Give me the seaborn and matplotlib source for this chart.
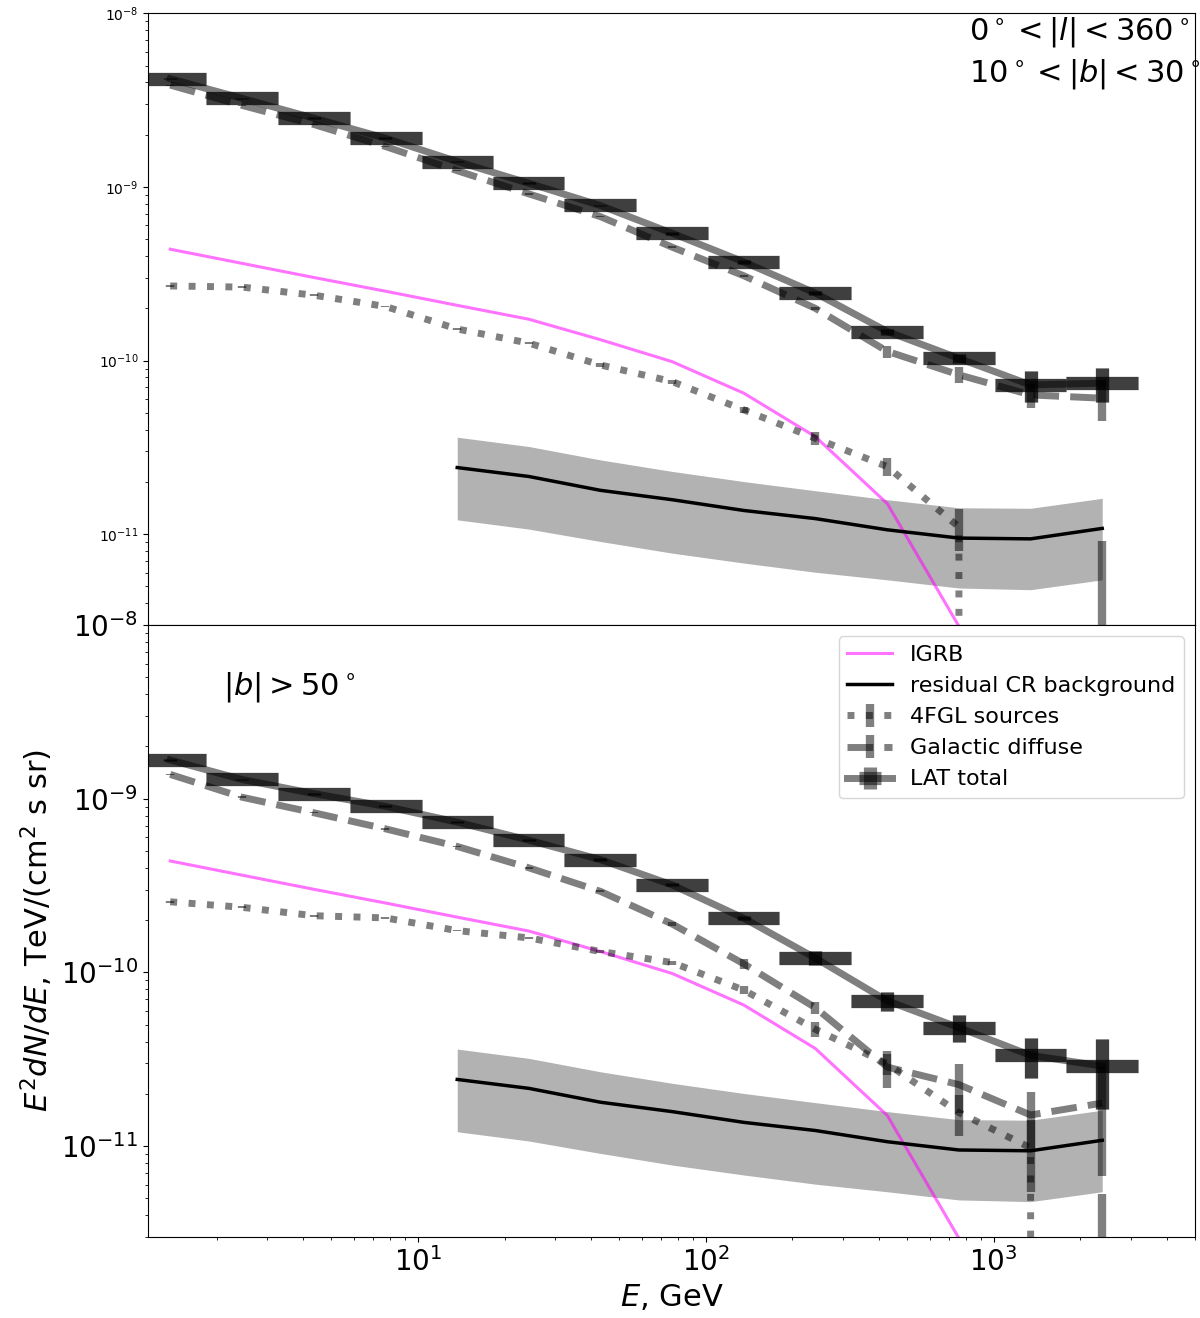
import numpy as np
import matplotlib
matplotlib.use('Agg')
import matplotlib.pyplot as plt
from matplotlib.ticker import NullFormatter
import seaborn as sns

# energy bins in GeV (centres and edges, 4 bins per decade)
E = np.array([1.38, 2.45, 4.35, 7.71, 13.7, 24.3, 43.0, 76.4, 135.5, 240.0, 427.0, 757.0, 1343.0, 2382.0])
E_edges = np.array([1.04, 1.84, 3.26, 5.79, 10.3, 18.2, 32.3, 57.3, 101.7, 180.0, 320.0, 568.0, 1007.0, 1787.0, 3170.0])

# IGRB (same in both panels), first 12 bins
igrb = [4.38e-10, 3.63e-10, 3.01e-10, 2.51e-10, 2.08e-10, 1.73e-10, 1.32e-10, 9.86e-11, 6.49e-11, 3.65e-11, 1.50e-11, 2.95e-12]

# residual CR background from bin 4 on, with band
cr = [2.42e-11, 2.15e-11, 1.79e-11, 1.58e-11, 1.37e-11, 1.23e-11, 1.06e-11, 9.5e-12, 9.4e-12, 1.08e-11]
cr_hi = [3.62e-11, 3.20e-11, 2.68e-11, 2.30e-11, 2.01e-11, 1.78e-11, 1.58e-11, 1.42e-11, 1.41e-11, 1.61e-11]
cr_lo = [1.21e-11, 1.07e-11, 9.08e-12, 7.78e-12, 6.82e-12, 6.04e-12, 5.46e-12, 4.90e-12, 4.79e-12, 5.46e-12]

# top panel: 10 < |b| < 30
lat_top = [4.20e-9, 3.24e-9, 2.49e-9, 1.91e-9, 1.40e-9, 1.05e-9, 7.82e-10, 5.41e-10, 3.70e-10, 2.45e-10, 1.47e-10, 1.03e-10, 7.24e-11, 7.41e-11]
lat_top_err = [4e-11, 3e-11, 2.5e-11, 2e-11, 1.5e-11, 1.2e-11, 1e-11, 9e-12, 8e-12, 7e-12, 6e-12, 6e-12, 1.5e-11, 1.6e-11]
gd_top = [3.86e-9, 2.95e-9, 2.29e-9, 1.71e-9, 1.24e-9, 9.12e-10, 6.75e-10, 4.50e-10, 3.08e-10, 2.00e-10, 1.13e-10, 8.28e-11, 6.34e-11, 6.07e-11]
gd_top_err = [3e-11, 2.5e-11, 2e-11, 1.5e-11, 1.2e-11, 1e-11, 8e-12, 6e-12, 5e-12, 4e-12, 9e-12, 9e-12, 1e-11, 1.6e-11]
fgl_top = [2.69e-10, 2.65e-10, 2.38e-10, 2.05e-10, 1.52e-10, 1.26e-10, 9.44e-11, 7.57e-11, 5.20e-11, 3.57e-11, 2.45e-11, 1.10e-11, 0.0, 0.0]
fgl_top_lo = [3e-12, 3e-12, 3e-12, 2.5e-12, 2e-12, 2e-12, 2e-12, 2e-12, 2e-12, 3e-12, 3e-12, 3e-12, 0.0, 0.0]
fgl_top_hi = [3e-12, 3e-12, 3e-12, 2.5e-12, 2e-12, 2e-12, 2e-12, 2e-12, 2e-12, 3e-12, 3e-12, 3e-12, 0.0, 9.1e-12]

# bottom panel: |b| > 50
lat_bot = [1.67e-9, 1.29e-9, 1.07e-9, 9.04e-10, 7.33e-10, 5.77e-10, 4.46e-10, 3.19e-10, 2.05e-10, 1.21e-10, 6.86e-11, 4.81e-11, 3.33e-11, 2.89e-11]
lat_bot_err = [2e-11, 1.5e-11, 1.3e-11, 1.1e-11, 9e-12, 8e-12, 7e-12, 6e-12, 6e-12, 1.1e-11, 8.6e-12, 8.5e-12, 8.6e-12, 1.25e-11]
gd_bot = [1.38e-9, 1.02e-9, 8.30e-10, 6.71e-10, 5.31e-10, 4.00e-10, 2.93e-10, 1.90e-10, 1.12e-10, 6.27e-11, 2.85e-11, 2.26e-11, 1.51e-11, 1.77e-11]
gd_bot_err = [1.4e-11, 1.0e-11, 8e-12, 7e-12, 6e-12, 5e-12, 4e-12, 4e-12, 7e-12, 5e-12, 7e-12, 7e-12, 5.5e-12, 1.1e-11]
fgl_bot = [2.55e-10, 2.37e-10, 2.12e-10, 2.06e-10, 1.74e-10, 1.58e-10, 1.32e-10, 1.14e-10, 7.91e-11, 4.71e-11, 2.97e-11, 1.56e-11, 9.77e-12, 0.0]
fgl_bot_lo = [3e-12, 3e-12, 2.5e-12, 2.5e-12, 2e-12, 2e-12, 2e-12, 3e-12, 4e-12, 4.5e-12, 4e-12, 4.2e-12, 4.3e-12, 0.0]
fgl_bot_hi = [3e-12, 3e-12, 2.5e-12, 2.5e-12, 2e-12, 2e-12, 2e-12, 3e-12, 4e-12, 4.5e-12, 4e-12, 4.2e-12, 4.3e-12, 5.3e-12]

xerr = [E - E_edges[:-1], E_edges[1:] - E]


def draw_panel(ax, lat, lat_err, gd, gd_err, fgl, fgl_lo, fgl_hi):
    ax.set_xscale('log')
    ax.set_yscale('log')
    sns.lineplot(x=E[:12], y=igrb, ax=ax, color='magenta', alpha=0.55, lw=2.2, errorbar=None)
    h_igrb = ax.lines[-1]
    ax.fill_between(E[4:], cr_lo, cr_hi, color='k', alpha=0.3, lw=0)
    sns.lineplot(x=E[4:], y=cr, ax=ax, color='k', lw=2.5, errorbar=None)
    h_cr = ax.lines[-1]
    h_fgl = ax.errorbar(E, fgl, yerr=[fgl_lo, fgl_hi], fmt=':', color='k', alpha=0.5, lw=5, elinewidth=6)
    h_gd = ax.errorbar(E, gd, yerr=gd_err, fmt='--', color='k', alpha=0.5, lw=5, elinewidth=6)
    h_lat = ax.errorbar(E, lat, xerr=xerr, yerr=lat_err, fmt='-', color='k', alpha=0.5, lw=5, elinewidth=9.5)
    ax.errorbar(E, lat, xerr=xerr, yerr=lat_err, fmt='none', ecolor='k', alpha=0.5, elinewidth=9.5)
    ax.set_xlim(1.155, 5000)
    ax.set_ylim(3e-12, 1e-8)
    return [h_igrb, h_cr, h_fgl, h_gd, h_lat]


fig = plt.figure(figsize=(12, 13.18), dpi=100)
ax1 = fig.add_axes([0.1233, 0.5258, 0.8725, 0.4641])
ax2 = fig.add_axes([0.1233, 0.0615, 0.8725, 0.4643], sharex=ax1)

draw_panel(ax1, lat_top, lat_top_err, gd_top, gd_top_err, fgl_top, fgl_top_lo, fgl_top_hi)
handles = draw_panel(ax2, lat_bot, lat_bot_err, gd_bot, gd_bot_err, fgl_bot, fgl_bot_lo, fgl_bot_hi)

ax2.set_xticks([10, 100, 1000])
ax2.xaxis.set_minor_formatter(NullFormatter())
ax2.set_xlim(1.155, 5000)
ax1.tick_params(axis='x', which='both', bottom=False, labelbottom=False)
ax2.tick_params(axis='both', which='major', labelsize=20)

ax1.text(0.784, 0.9575, r'$0^\circ < |l| < 360^\circ$', transform=ax1.transAxes, fontsize=22, va='baseline')
ax1.text(0.784, 0.888, r'$10^\circ < |b| < 30^\circ$', transform=ax1.transAxes, fontsize=22, va='baseline')
ax2.text(0.0716, 0.887, r'$|b| > 50^\circ$', transform=ax2.transAxes, fontsize=22, va='baseline')

ax2.legend(handles, ['IGRB', 'residual CR background', '4FGL sources', 'Galactic diffuse', 'LAT total'],
           loc='upper right', fontsize=16)

ax2.set_xlabel(r'$E$, GeV', fontsize=22)
ax2.set_ylabel(r'$E^2dN/dE$, TeV/(cm$^2$ s sr)', fontsize=22)

fig.savefig('out.png', dpi=100)
